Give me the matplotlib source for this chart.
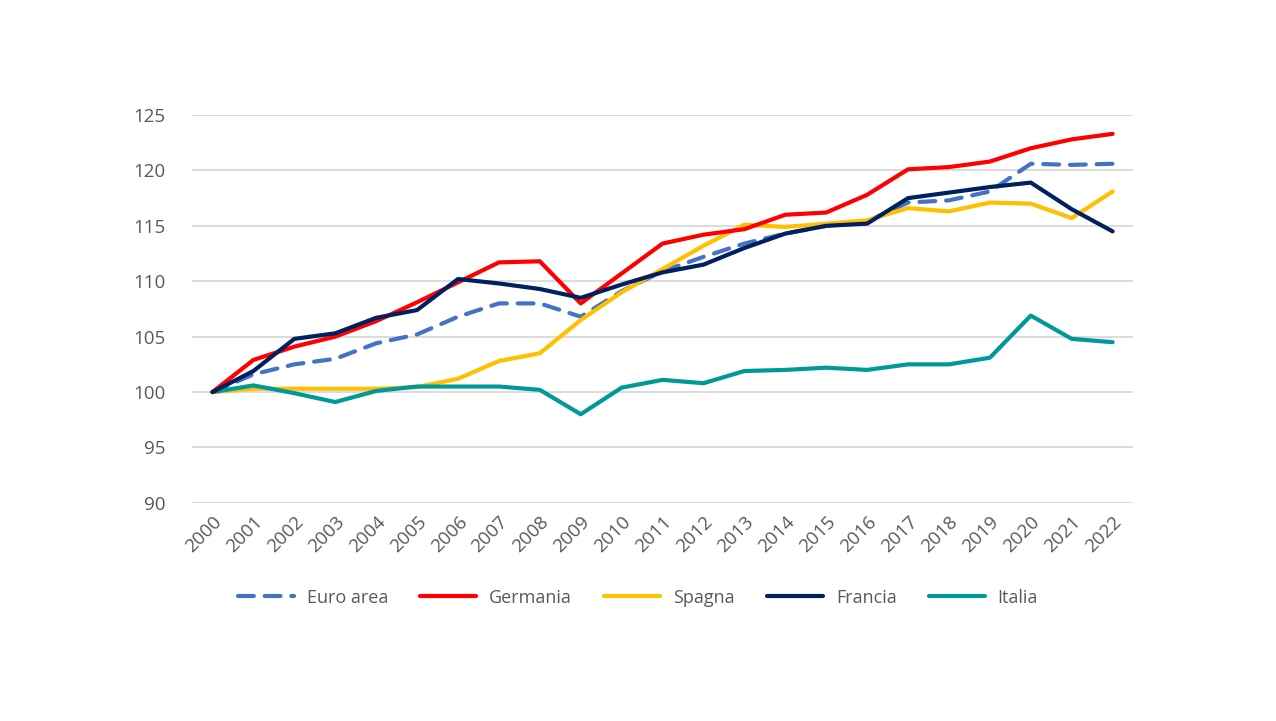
import matplotlib
matplotlib.use("Agg")
import matplotlib.pyplot as plt

years = [str(y) for y in range(2000, 2023)]
euro_area = [100, 101.6, 102.5, 103.0, 104.4, 105.2, 106.8, 108.0, 108.0, 106.8, 109.1, 110.9,
             112.2, 113.4, 114.3, 115.0, 115.4, 117.1, 117.3, 118.1, 120.6, 120.5, 120.6]
germania = [100, 102.9, 104.1, 105.0, 106.4, 108.1, 109.9, 111.7, 111.8, 108.0, 110.7, 113.4,
            114.2, 114.7, 116.0, 116.2, 117.8, 120.1, 120.3, 120.8, 122.0, 122.8, 123.3]
spagna = [100, 100.3, 100.3, 100.3, 100.3, 100.45, 101.2, 102.8, 103.5, 106.5, 109.0, 111.1,
          113.2, 115.1, 114.9, 115.2, 115.5, 116.6, 116.3, 117.1, 117.0, 115.7, 118.1]
francia = [100, 101.9, 104.8, 105.3, 106.7, 107.4, 110.2, 109.8, 109.3, 108.5, 109.7, 110.8,
           111.5, 113.0, 114.3, 115.0, 115.2, 117.5, 118.0, 118.5, 118.9, 116.5, 114.5]
italia = [100, 100.6, 99.9, 99.1, 100.1, 100.5, 100.5, 100.5, 100.2, 98.0, 100.4, 101.1,
          100.8, 101.9, 102.0, 102.2, 102.0, 102.5, 102.5, 103.1, 106.9, 104.8, 104.5]

plt.rcParams['font.family'] = ['Open Sans', 'DejaVu Sans']

fig = plt.figure(figsize=(12.76, 7.21), dpi=100)
ax = fig.add_axes([0.1505, 0.3025, 0.7375, 0.538])

x = list(range(len(years)))
lw = 3.0
ax.plot(x, euro_area, color='#4472C4', lw=lw, dashes=(3.8, 2.6), dash_capstyle='round',
        label='Euro area', zorder=3)
ax.plot(x, germania, color='#FF0000', lw=lw, solid_capstyle='round', label='Germania', zorder=4)
ax.plot(x, spagna, color='#FFC000', lw=lw, solid_capstyle='round', label='Spagna', zorder=3)
ax.plot(x, francia, color='#002060', lw=lw, solid_capstyle='round', label='Francia', zorder=5)
ax.plot(x, italia, color='#009999', lw=lw, solid_capstyle='round', label='Italia', zorder=3)

ax.set_xlim(-0.5, len(years) - 0.5)
ax.set_ylim(90, 125)
ax.set_yticks(range(90, 126, 5))
ax.set_xticks(x)
ax.set_xticklabels(years, rotation=45, ha='right', rotation_mode='anchor')
ax.tick_params(axis='both', length=0, labelsize=13.5, labelcolor='#595959')
ax.tick_params(axis='y', pad=19)
ax.tick_params(axis='x', pad=7)
ax.grid(axis='y', color='#D9D9D9', lw=1.3)
ax.set_axisbelow(True)
for s in ax.spines.values():
    s.set_visible(False)

leg = fig.legend(loc='center', bbox_to_anchor=(0.5, 0.171), ncol=5, frameon=False,
                 fontsize=13, handlelength=3.1, columnspacing=1.8, handletextpad=0.7)
for t in leg.get_texts():
    t.set_color('#595959')

fig.savefig('out.png', dpi=100)
